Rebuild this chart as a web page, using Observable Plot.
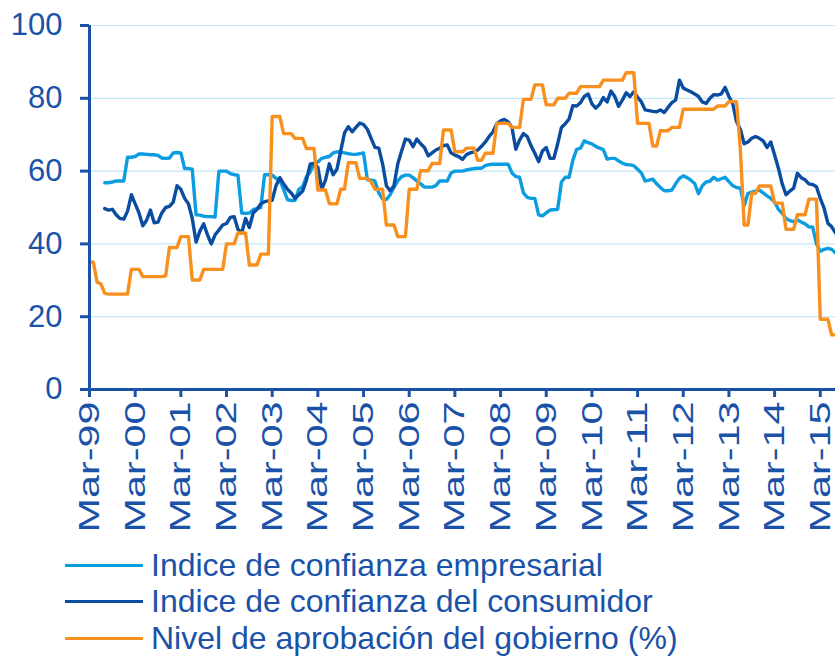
<!DOCTYPE html>
<html>
<head>
<meta charset="utf-8">
<script src="https://cdn.jsdelivr.net/npm/d3@7"></script>
<script src="https://cdn.jsdelivr.net/npm/@observablehq/plot@0.6"></script>
<style>
  body { margin: 0; background: #fff; font-family: "Liberation Sans", Arial, sans-serif; }
  #chart svg { display: block; }
  #legend { padding-top: 7px; color: #1a52a8; font-size: 32px; }
  .row { display: flex; align-items: center; height: 36.5px; white-space: nowrap; }
  .sw { margin-left: 65px; width: 78px; height: 3px; margin-right: 8px; flex: none; }
</style>
</head>
<body>
<div id="chart"></div>
<div id="legend"></div>
<script>
// Month index 0 = Mar-99 ... 196 = Jul-15
const tickLabels = ["Mar-99","Mar-00","Mar-01","Mar-02","Mar-03","Mar-04","Mar-05","Mar-06","Mar-07","Mar-08","Mar-09","Mar-10","Mar-11","Mar-12","Mar-13","Mar-14","Mar-15"];
const seriesNames = ["Indice de confianza empresarial", "Indice de confianza del consumidor", "Nivel de aprobación del gobierno (%)"];

const empresarial = [
  null,null,null,null,56.8,56.8,57.0,57.3,57.3,57.3,63.8,63.8,
  64.0,64.7,64.7,64.6,64.5,64.5,64.3,63.6,63.5,63.6,65.0,65.1,
  65.0,60.7,60.7,60.5,48.0,47.9,47.6,47.5,47.5,47.4,60.0,60.0,
  60.0,59.3,59.0,58.9,48.5,48.4,48.5,49.4,49.7,50.0,59.0,59.0,
  58.9,58.0,57.5,55.0,52.2,51.9,52.0,55.0,55.7,58.5,59.8,62.0,
  62.5,63.5,63.8,64.0,65.0,65.3,65.2,65.0,64.8,64.6,64.6,64.8,
  65.0,57.7,57.5,57.3,54.0,52.3,52.2,53.5,55.5,57.3,58.5,58.9,
  58.9,58.2,57.3,56.5,55.6,55.6,55.6,56.0,57.3,57.3,57.3,59.5,
  60.0,60.0,60.0,60.3,60.5,60.7,60.8,60.8,61.5,61.8,61.9,61.9,
  61.9,61.9,61.9,59.5,58.5,58.3,54.0,52.8,52.5,52.5,48.0,47.7,
  48.5,49.3,49.4,49.5,57.0,58.3,58.3,63.0,66.0,66.3,68.3,67.8,
  67.5,66.8,66.3,65.9,63.3,63.5,63.5,62.8,62.2,61.8,61.7,61.5,
  60.5,59.5,57.3,57.5,57.8,56.5,55.5,54.6,54.6,54.8,56.5,58.0,
  58.7,58.2,57.5,56.6,53.8,56.0,57.0,57.2,58.3,57.5,57.9,58.3,
  57.1,56.0,55.5,55.3,50.5,53.9,54.2,54.5,54.8,54.0,53.2,52.5,
  51.5,49.5,48.4,47.0,46.4,46.1,46.6,46.0,45.5,44.7,44.6,40.0,
  38.0,38.5,38.8,38.5,37.5
];

const consumidor = [
  null,null,null,null,49.7,49.3,49.5,48.0,47.0,46.8,49.0,53.5,
  51.0,48.5,45.0,46.5,49.3,45.8,46.0,48.5,50.0,50.3,51.5,56.0,
  55.0,52.5,51.0,47.0,40.5,43.5,45.5,42.5,40.0,42.5,43.8,45.2,
  45.6,47.3,47.5,44.0,43.0,47.0,44.5,48.5,49.5,51.0,51.6,51.8,
  52.0,56.0,58.2,56.5,55.0,54.0,52.5,53.5,54.5,57.5,62.0,62.1,
  61.0,55.0,57.5,62.0,59.0,60.5,65.5,70.5,72.2,70.8,72.0,73.2,
  72.8,71.5,69.0,66.5,66.3,62.0,56.0,54.6,56.0,62.0,65.5,68.8,
  68.5,66.7,68.8,67.5,66.5,64.2,65.0,65.8,66.3,67.0,67.2,65.0,
  64.4,64.0,63.2,64.5,65.0,65.3,65.8,66.8,68.0,69.5,70.8,73.0,
  73.8,74.2,73.5,72.0,66.0,68.5,70.3,69.5,67.0,64.9,62.6,65.5,
  66.5,63.5,63.5,67.5,72.0,73.0,74.3,78.0,77.9,78.8,80.5,81.2,
  78.5,77.3,78.3,80.2,79.0,82.0,80.5,77.8,79.5,81.5,80.5,81.8,
  80.3,79.0,76.8,76.6,76.4,76.3,76.8,76.1,77.5,78.8,79.5,85.0,
  82.8,82.3,81.8,81.2,80.5,79.0,78.6,80.0,81.0,80.9,81.2,83.0,
  80.5,78.5,73.6,71.5,67.5,68.0,69.0,69.5,69.0,68.3,66.5,68.0,
  64.4,60.8,56.5,53.5,54.5,55.3,59.4,58.2,57.6,56.5,56.3,55.7,
  52.5,49.8,45.7,44.7,43.0
];

const aprobacion = [
  35,35,29.5,29,26.4,26.2,26.2,26.2,26.2,26.2,26.2,33,
  33,33,31,31,31,31,31,31,31.2,39,39,39,
  42,42,42,30.1,30.1,30.1,33,33,33,33,33,33,
  40,40,40,43,43,43,34.2,34.2,34.2,37.2,37.2,37.2,
  75,75,75,70.3,70.3,70.3,69,69,69,66.2,66.2,66.2,
  54.8,54.8,54.8,51.1,51,51,55,55,62.3,62.3,62.3,58,
  58,58,57,55,55,55,45.2,45.2,45.2,42,42,42,
  55,55,55,60.1,60.1,60.1,62.1,62.1,62.1,71.3,71.3,71.3,
  65.3,65.3,65.3,66.3,66.3,66.3,63,63,64.9,64.9,64.9,73.1,
  73.1,73.1,73.1,72,72,72,79.7,79.7,79.7,83.7,83.7,83.7,
  78.2,78.2,78.2,80,80,80,81.4,81.4,81.4,83.2,83.2,83.2,
  83.2,83.2,83.2,85,85,85,85,85,85,87,87,87,
  73.1,73.1,73.1,73.1,66.9,66.9,71.1,71.1,71.1,72,72,72,
  77,77,77,77,77,77,77,77,77,77.9,77.9,77.9,
  79.1,79.1,79.1,66,45.2,45.2,53.9,53.9,55.9,55.9,55.9,55.9,
  51.2,51.2,51.2,44,44,44,48,48,48,52.3,52.3,52.3,
  19.3,19.3,19.3,15,15
];

const colors = ["#0b9de0", "#0a4c9f", "#f7901e"];
const axisColor = "#1a52a8";
const gridColor = "#c2e7f7";
const idx = d3.range(aprobacion.length);
const tickIdx = tickLabels.map((_, k) => k * 12);

const chart = Plot.plot({
  width: 835,
  height: 540,
  marginTop: 25,
  marginLeft: 89,
  marginRight: 0,
  marginBottom: 151,
  style: { fontFamily: "'Liberation Sans', Arial, sans-serif", color: axisColor, background: "#fff" },
  x: { domain: [0, 196] },
  y: { domain: [0, 100] },
  marks: [
    Plot.ruleY([20, 40, 60, 80, 100], { stroke: gridColor, strokeWidth: 1.2 }),
    Plot.line(idx, { x: d => d, y: d => empresarial[d], stroke: colors[0], strokeWidth: 3.4, strokeLinejoin: "round" }),
    Plot.line(idx, { x: d => d, y: d => consumidor[d], stroke: colors[1], strokeWidth: 3.4, strokeLinejoin: "round" }),
    Plot.line(idx, { x: d => d, y: d => aprobacion[d], stroke: colors[2], strokeWidth: 3.4, strokeLinejoin: "round" }),
    Plot.axisY({ ticks: [0, 20, 40, 60, 80, 100], tickSize: 9, tickPadding: 18, fontSize: 31, strokeWidth: 3, label: null }),
    Plot.axisX({ ticks: tickIdx, tickFormat: d => tickLabels[d / 12], tickRotate: -90, tickSize: 8, tickPadding: 4, fontSize: 30, strokeWidth: 3, label: null }),
    Plot.ruleX([0], { y1: 0, y2: 100, stroke: axisColor, strokeWidth: 3 }),
    Plot.ruleY([0], { stroke: axisColor, strokeWidth: 3 })
  ]
});
document.getElementById("chart").appendChild(chart);

// stretch rotated month labels along their length, as in the reference
d3.select(chart).selectAll("g[aria-label='x-axis tick label'] text")
  .attr("textLength", 131)
  .attr("lengthAdjust", "spacingAndGlyphs");

const legend = document.getElementById("legend");
seriesNames.forEach((name, k) => {
  const row = document.createElement("div");
  row.className = "row";
  const sw = document.createElement("div");
  sw.className = "sw";
  sw.style.background = colors[k];
  const tx = document.createElement("span");
  tx.textContent = name;
  row.appendChild(sw);
  row.appendChild(tx);
  legend.appendChild(row);
});
</script>
</body>
</html>
